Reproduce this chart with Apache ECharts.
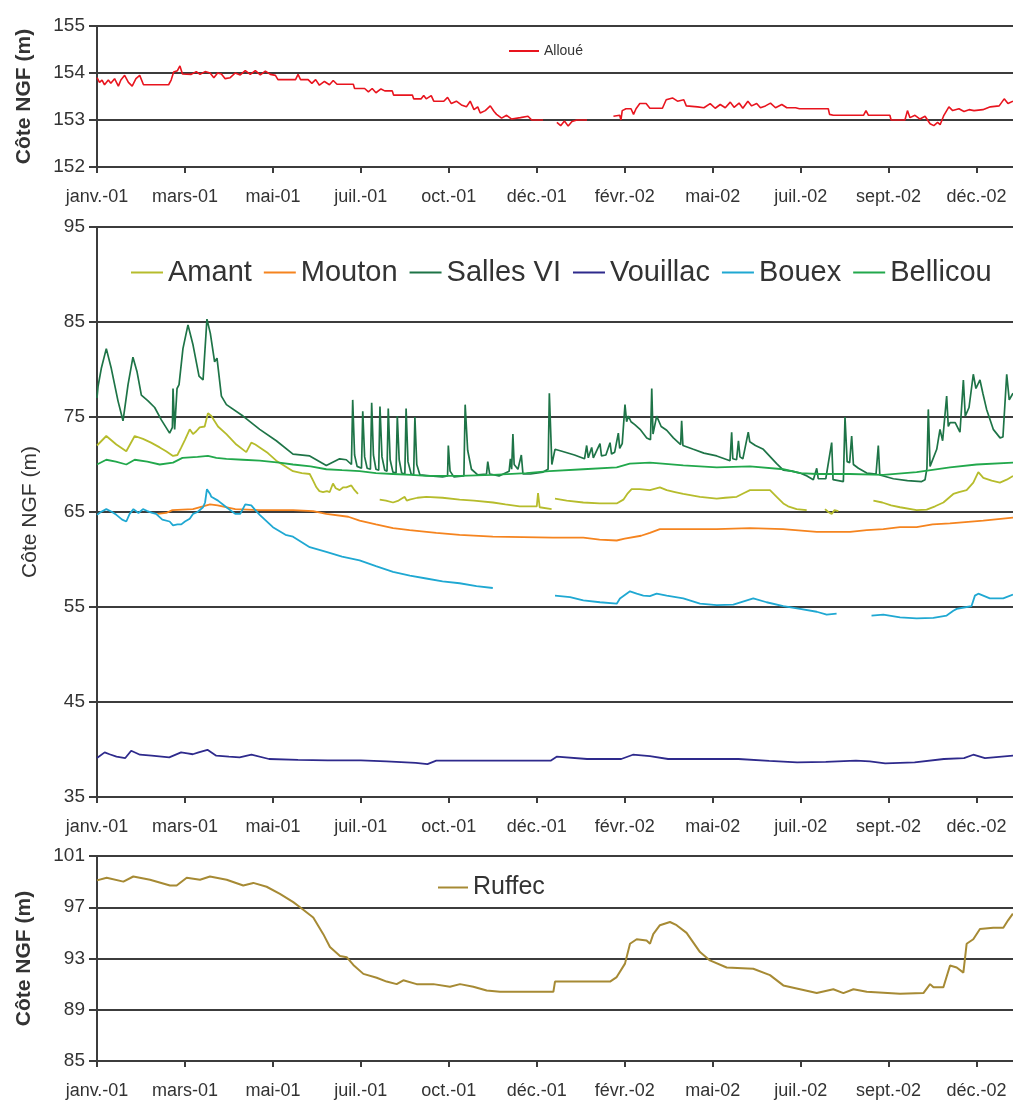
<!DOCTYPE html>
<html>
<head>
<meta charset="utf-8">
<script src="https://cdn.jsdelivr.net/npm/echarts@6/dist/echarts.min.js"></script>
<style>html,body{margin:0;padding:0;background:#fff;}#c{width:1013px;height:1100px;}</style>
</head>
<body>
<div id="c"></div>
<script>
// x = day index from 1 Jan 2001; ticks every 70 days
const xTickLabels = ['janv.-01','mars-01','mai-01','juil.-01','oct.-01','déc.-01','févr.-02','mai-02','juil.-02','sept.-02','déc.-02'];
const topTicks = [152, 153, 154, 155];
const midTicks = [35, 45, 55, 65, 75, 85, 95];
const botTicks = [85, 89, 93, 97, 101];

const alloue = [[0,153.9],[2,153.8],[4,153.85],[6,153.75],[9,153.85],[11,153.78],[14,153.88],[17,153.72],[19,153.85],[22,153.95],[25,153.8],[28,153.72],[31,153.88],[34,153.95],[37,153.75],[44,153.75],[50,153.75],[57,153.75],[59,153.85],[61,154.02],[64,154.05],[66,154.15],[68,153.98],[75,153.97],[79,154.03],[82,153.97],[86,154.03],[90,154.0],[93,153.9],[96,154.0],[99,153.98],[102,153.88],[106,153.9],[110,154.0],[114,153.96],[118,154.05],[122,153.97],[126,154.05],[130,153.96],[134,154.04],[138,153.97],[142,153.95],[144,153.86],[152,153.86],[158,153.86],[160,153.97],[162,153.86],[168,153.86],[171,153.78],[174,153.86],[177,153.74],[181,153.82],[185,153.75],[188,153.84],[191,153.76],[204,153.76],[205,153.67],[213,153.67],[216,153.6],[219,153.67],[222,153.58],[226,153.66],[229,153.62],[235,153.62],[236,153.53],[251,153.53],[252,153.45],[258,153.45],[260,153.52],[262,153.45],[266,153.52],[268,153.4],[276,153.4],[279,153.48],[282,153.35],[286,153.4],[290,153.32],[294,153.28],[297,153.4],[300,153.22],[303,153.28],[305,153.15],[309,153.2],[313,153.3],[316,153.18],[318,153.12],[322,153.04],[326,153.1],[330,153.02],[337,153.05],[343,153.08],[346,153.0],[355,153.0],[355.5,null],[366,152.95],[369,152.88],[372,152.98],[375,152.87],[378,152.97],[382,153.0],[390,153.0],[390.5,null],[411,153.08],[416,153.1],[417,153.0],[418,153.2],[421,153.24],[425,153.24],[427,153.12],[429,153.24],[432,153.35],[437,153.35],[440,153.25],[450,153.25],[453,153.43],[458,153.47],[462,153.4],[467,153.43],[469,153.3],[478,153.28],[483,153.26],[488,153.35],[492,153.25],[496,153.33],[500,153.26],[504,153.38],[507,153.27],[511,153.36],[514,153.25],[518,153.4],[521,153.3],[525,153.35],[528,153.26],[532,153.3],[536,153.36],[540,153.26],[545,153.33],[549,153.26],[556,153.26],[559,153.24],[582,153.24],[583,153.12],[586,153.1],[610,153.1],[612,153.2],[614,153.1],[631,153.1],[632,153.0],[643,153.0],[645,153.2],[647,153.05],[651,153.1],[655,153.02],[659,153.08],[663,152.92],[666,152.88],[669,152.95],[671,152.9],[674,153.1],[678,153.28],[681,153.2],[686,153.24],[690,153.18],[694,153.22],[698,153.2],[705,153.22],[711,153.28],[718,153.3],[722,153.45],[725,153.35],[729,153.4]];

const amant = [[0,72.0],[7.4,73.0],[15.4,72.1],[23.3,71.4],[30,73.0],[36.6,72.7],[43,72.3],[49.9,71.8],[55,71.4],[60.5,70.9],[64,71.0],[67.1,71.8],[70,72.6],[73.8,73.7],[76.4,73.2],[79,73.5],[81.7,73.9],[85.7,74.0],[88.3,75.4],[91,75.1],[96.3,74.0],[103,73.2],[110.9,72.1],[118.8,71.3],[122.8,72.3],[126,72.1],[129.5,71.8],[136,71.2],[142.7,70.4],[150,69.8],[156,69.3],[163,69.1],[169.3,69.0],[172,68.3],[174.6,67.6],[177,67.2],[179.9,67.1],[183,67.2],[185.2,67.1],[187.8,68.0],[190,67.5],[193.1,67.3],[196,67.6],[198.4,67.6],[202.4,67.8],[205,67.3],[207.7,66.9],[208,null],[225,66.3],[230,66.2],[235.6,66.0],[240,66.2],[244.9,66.6],[246.5,66.2],[248.8,66.3],[255,66.5],[262.1,66.6],[275,66.5],[288.6,66.3],[300,66.2],[315.2,66.0],[325,65.8],[336.4,65.6],[343,65.6],[350,65.6],[351,67.0],[352.3,65.5],[361.8,65.3],[363,null],[364.5,66.4],[373.8,66.2],[387,66.0],[400,65.9],[413.6,65.9],[418.9,66.3],[422,66.9],[425.5,67.4],[432,67.4],[440,67.3],[448,67.6],[453.4,67.3],[460,67.1],[466.6,66.9],[479.9,66.6],[493.2,66.4],[500,66.5],[509.1,66.6],[515,67.0],[519.7,67.3],[528,67.3],[535.6,67.3],[540.9,66.6],[546.2,65.9],[550,65.6],[556.8,65.3],[564.8,65.2],[566,null],[579.4,65.3],[582,65.0],[584.7,64.8],[587,65.2],[590,65.1],[591,null],[617.9,66.2],[625,66.0],[632,65.7],[639.1,65.5],[652.3,65.2],[660.3,65.25],[667,65.6],[673.6,66.0],[681.5,66.9],[686,67.1],[692.1,67.3],[697.4,68.1],[701.4,69.2],[705.4,68.6],[712,68.3],[718.6,68.1],[724,68.4],[729,68.8]];

const mouton = [[48,64.8],[55,64.9],[60,65.2],[76.4,65.3],[90,65.8],[96,65.7],[110,65.3],[129.5,65.2],[156,65.2],[172,65.1],[182.5,64.8],[200,64.5],[209,64.1],[222,63.7],[235.6,63.3],[248.8,63.1],[270,62.8],[288.6,62.6],[315,62.4],[363,62.3],[387,62.3],[400,62.1],[413.6,62.0],[420,62.2],[433,62.5],[440,62.8],[448,63.2],[466.6,63.2],[493.2,63.2],[519.7,63.3],[546,63.2],[572.8,62.9],[599.3,62.9],[612.6,63.1],[625.8,63.2],[639,63.4],[652.3,63.4],[665,63.7],[678.8,63.8],[705.3,64.1],[729,64.4]];

const salles = [[0,77.0],[0.8,78.2],[3.4,80.1],[7.4,82.2],[11.4,80.1],[16.7,76.7],[20.7,74.6],[24.7,78.4],[28.6,81.3],[31.8,79.8],[35.3,77.3],[40.6,76.7],[45.9,76.0],[51.2,74.7],[57.8,73.3],[60,73.9],[60.5,78.0],[61.8,73.7],[63.7,78.0],[65.3,78.4],[68.4,82.2],[72.4,84.7],[76.4,82.6],[81.2,79.3],[84.4,78.9],[87.5,85.3],[90.2,83.8],[93.6,80.8],[95.5,81.2],[99,77.2],[103,76.3],[116.2,75.1],[129.5,73.7],[142.7,72.5],[156,71.1],[169.3,70.9],[182.5,69.9],[193.1,70.6],[198.4,70.5],[202.5,70.0],[203.5,76.8],[205,71.0],[207,69.8],[210.5,69.6],[211.5,75.6],[213,70.8],[215,69.6],[217.6,69.5],[218.6,76.5],[220,71.0],[222,69.5],[224.2,69.4],[225.2,76.1],[226.8,70.8],[229,69.4],[230.8,69.3],[231.8,75.9],[233.3,70.5],[235.5,69.2],[238,69.1],[239,75.1],[240.5,70.5],[242.5,69.1],[245,69.0],[246,75.9],[247.5,70.3],[250,69.0],[252,68.9],[253,75.0],[254.5,70.0],[257,68.9],[265,68.8],[275,68.7],[279,68.8],[279.6,72.0],[281,69.3],[284,68.7],[292,68.8],[293,76.3],[295,71.5],[298,69.5],[303,68.9],[310,69.0],[311,70.3],[312.5,69.0],[320,68.8],[328,69.3],[329,70.6],[330,69.5],[331,73.2],[332,70.0],[335,69.5],[337.7,71.0],[339,69.0],[345,69.0],[355,69.2],[359,69.5],[360,77.5],[362,70.0],[364.5,71.6],[370,71.4],[380,71.0],[388,70.6],[389.7,72.0],[391,70.7],[393.7,71.8],[395,70.7],[400.3,72.2],[401.5,70.9],[405,71.0],[408.3,72.3],[409.5,71.1],[412,71.3],[414.9,73.3],[416,71.7],[418,72.2],[420.2,76.3],[421.5,74.5],[422.9,75.1],[425,74.5],[428,74.2],[432.2,73.7],[437.5,72.8],[440.5,72.6],[441.5,78.0],[442.5,73.2],[445.4,75.1],[449,74.0],[453.4,73.6],[458.7,72.8],[464.5,72.1],[465.3,74.6],[466.3,72.0],[474.6,71.6],[483,71.2],[493.2,70.9],[503.8,70.4],[505.1,73.4],[506,70.6],[509,70.5],[510.5,72.5],[511.7,70.8],[514,70.6],[518.3,73.4],[519.5,72.4],[524,72.0],[530.3,71.6],[540.9,70.1],[546.2,69.4],[553,69.3],[559.5,69.1],[565,68.8],[570.1,68.4],[572.8,69.6],[574,68.5],[580,68.5],[584.7,72.3],[585.8,68.4],[590,68.3],[594,68.2],[595.3,75.0],[597,70.3],[599,70.2],[600.6,73.0],[602,70.0],[606,69.6],[612.6,69.1],[620,69.0],[621.8,72.0],[623,68.9],[633.8,68.5],[645,68.3],[656.3,68.2],[659,68.4],[660.5,69.6],[661.6,75.8],[663,69.8],[668.3,71.6],[670.9,73.7],[673,72.5],[676.2,77.2],[677.5,74.0],[678.9,74.4],[683,74.4],[686.8,73.4],[689.5,78.9],[691,75.1],[694,76.0],[697.4,79.5],[699.5,78.0],[702.7,78.9],[705,77.5],[708,75.8],[713.3,73.7],[718.7,72.8],[721,72.9],[724,79.5],[726,76.8],[729,77.5]];

const vouillac = [[0,39.1],[1.5,39.24],[6.1,39.7],[10,39.5],[15.5,39.24],[22.5,39.1],[27.2,39.87],[34.2,39.45],[43.5,39.35],[57.5,39.17],[66.9,39.7],[72,39.6],[76.2,39.5],[80.9,39.7],[87.9,39.97],[94.9,39.35],[105,39.25],[113.5,39.17],[122.9,39.45],[136.9,39.0],[160,38.9],[183.6,38.85],[210,38.85],[230.3,38.75],[253.7,38.6],[263,38.47],[270,38.82],[300,38.82],[323.8,38.82],[361,38.82],[365.8,39.24],[390,39.0],[417.2,39.0],[426.5,39.45],[440,39.3],[454.5,39.0],[480,39.0],[510.5,39.0],[535,38.8],[557.2,38.65],[580,38.7],[604,38.82],[615,38.75],[627.3,38.54],[650.7,38.65],[674,39.0],[690,39.1],[697.4,39.45],[706.7,39.1],[729,39.35]];

const bouex = [[0,64.7],[3,65.0],[7.4,65.3],[12,65.0],[15.4,64.7],[20,64.2],[23.3,64.0],[26,64.8],[29,65.3],[33,64.9],[36.6,65.3],[40,65.1],[44,64.9],[47,64.8],[52,64.2],[57.8,64.0],[60.5,63.6],[64,63.7],[67.1,63.7],[70,64.0],[73.8,64.3],[76.4,64.8],[80,65.0],[84.4,65.5],[86,66.0],[87.5,67.4],[90,66.9],[91,66.6],[96.3,66.2],[103,65.5],[110,64.8],[114,64.8],[118,65.8],[119,66.0],[122.8,65.7],[126,65.2],[129.5,64.7],[140,63.4],[150,62.6],[156,62.4],[169.3,61.3],[182.5,60.8],[195,60.3],[209,59.9],[222,59.3],[235.6,58.7],[249,58.3],[262,58.0],[275,57.7],[288.6,57.5],[302,57.2],[315,57.0],[316,null],[364.5,56.2],[376.5,56.05],[387,55.7],[400.3,55.5],[413.6,55.35],[416.2,55.9],[424.2,56.65],[429.5,56.4],[434.8,56.2],[440,56.15],[445.4,56.4],[453.4,56.2],[466.6,55.9],[479.9,55.35],[493.2,55.2],[506.4,55.25],[522.3,55.9],[532.9,55.5],[546.2,55.1],[559.5,54.8],[572.8,54.5],[580.7,54.2],[588.6,54.3],[589,null],[616.4,54.1],[625.8,54.2],[639.1,53.9],[652.3,53.8],[665.6,53.85],[676.2,54.1],[681.5,54.6],[684.2,54.8],[692.1,55.0],[696,55.1],[698.7,56.2],[701.4,56.4],[710.6,55.9],[721.2,55.9],[729,56.3]];

const bellicou = [[0,70.0],[7.4,70.5],[15,70.3],[23.3,70.0],[30,70.5],[40,70.3],[49.9,70.0],[60.5,70.2],[68,70.7],[80,70.8],[88.3,70.9],[95,70.7],[103,70.6],[116,70.5],[129.5,70.4],[145,70.2],[156,70.0],[170,69.8],[182.5,69.5],[195,69.4],[209,69.3],[222,69.1],[235.6,69.0],[250,68.9],[262,68.8],[288.6,68.8],[315,68.9],[341.7,69.1],[360,69.3],[387,69.5],[413.6,69.7],[424,70.1],[440,70.2],[450,70.1],[466.6,69.9],[493.2,69.7],[519.7,69.8],[546.2,69.5],[560,69.1],[572.8,69.0],[599.3,69.0],[625.8,68.9],[652.3,69.2],[678.8,69.7],[700,70.0],[729,70.2]];

const ruffec = [[0,99.1],[7.7,99.3],[21,99.0],[28.9,99.4],[42.2,99.15],[58.1,98.7],[63.4,98.7],[71.4,99.3],[82,99.15],[89.9,99.4],[103.2,99.15],[116.4,98.7],[124.4,98.9],[135,98.6],[145.6,98.05],[156.2,97.4],[161.6,97.0],[172.1,96.2],[180.1,94.9],[185.4,93.9],[193.4,93.2],[198.7,93.1],[204,92.5],[212,91.8],[222.6,91.5],[230.5,91.2],[238.5,91.0],[243.8,91.3],[254.4,91.0],[267.7,91.0],[280.9,90.8],[288.9,91.0],[299.5,90.8],[310.1,90.5],[320.7,90.4],[363.2,90.4],[364.5,91.2],[408.3,91.2],[413.6,91.55],[420.2,92.6],[424.2,94.15],[429.5,94.5],[437.4,94.4],[440.1,94.15],[442.7,94.9],[448,95.6],[456,95.85],[461.3,95.6],[469.2,95.0],[479.9,93.5],[487.8,92.85],[501.1,92.3],[522.3,92.2],[535.6,91.7],[546.2,90.9],[559.5,90.6],[572.8,90.3],[586,90.6],[594,90.3],[602,90.6],[612.6,90.4],[639.1,90.25],[657.7,90.3],[663,91.0],[665.7,90.75],[673.6,90.75],[678.9,92.45],[684.2,92.3],[689.5,91.9],[692.1,94.15],[697.4,94.5],[702.7,95.3],[713.3,95.4],[721.3,95.4],[725.2,96.0],[728.9,96.5]];

const FONT = 'Liberation Sans';
const gridColor = '#3c3c3c';
const DAY_STEP = 70;

function xAxisFor(i) {
  return {
    type: 'value', gridIndex: i, min: 0, max: 729, interval: DAY_STEP,
    axisLine: { show: true, lineStyle: { color: gridColor, width: 2 } },
    axisTick: { show: true, length: 6, lineStyle: { color: gridColor, width: 2 } },
    splitLine: { show: false },
    axisLabel: {
      fontFamily: FONT, fontSize: 18, color: '#333', margin: 21, showMaxLabel: false,
      formatter: v => (v % DAY_STEP === 0 ? (xTickLabels[v / DAY_STEP] || '') : '')
    }
  };
}
function yAxisFor(i, ticks, gap, bold) {
  return {
    type: 'value', gridIndex: i, min: ticks[0], max: ticks[ticks.length - 1],
    interval: ticks[1] - ticks[0],
    name: 'Côte NGF (m)', nameLocation: 'middle', nameRotate: 90, nameGap: gap,
    nameTextStyle: { fontFamily: FONT, fontSize: 21, color: '#333', fontWeight: bold ? 'bold' : 'normal' },
    axisLine: { show: true, lineStyle: { color: gridColor, width: 2 } },
    axisTick: { show: true, length: 8, lineStyle: { color: gridColor, width: 2 } },
    splitLine: { show: true, lineStyle: { color: gridColor, width: 2 } },
    axisLabel: { fontFamily: FONT, fontSize: 19, color: '#333', margin: 12 }
  };
}
function line(name, data, color, gi, w) {
  return {
    name, type: 'line', data, xAxisIndex: gi, yAxisIndex: gi,
    showSymbol: false, symbol: 'none', connectNulls: false,
    lineStyle: { color, width: w || 1.8 }, itemStyle: { color },
    animation: false
  };
}

const chart = echarts.init(document.getElementById('c'), null, { renderer: 'canvas' });
chart.setOption({
  backgroundColor: '#fff',
  animation: false,
  grid: [
    { left: 97, width: 916, top: 26, height: 141 },
    { left: 97, width: 916, top: 227, height: 570 },
    { left: 97, width: 916, top: 856, height: 205 }
  ],
  xAxis: [xAxisFor(0), xAxisFor(1), xAxisFor(2)],
  yAxis: [yAxisFor(0, topTicks, 62, true), yAxisFor(1, midTicks, 56, false), yAxisFor(2, botTicks, 62, true)],
  legend: [
    { data: ['Alloué'], left: 504, top: 39, icon: 'rect', itemWidth: 30, itemHeight: 2, itemGap: 4,
      textStyle: { fontFamily: FONT, fontSize: 14, color: '#333' } },
    { data: ['Amant', 'Mouton', 'Salles VI', 'Vouillac', 'Bouex', 'Bellicou'], left: 126, top: 253,
      icon: 'rect', itemWidth: 32, itemHeight: 2, itemGap: 12,
      textStyle: { fontFamily: FONT, fontSize: 29, color: '#333' } },
    { data: ['Ruffec'], left: 433, top: 870, icon: 'rect', itemWidth: 30, itemHeight: 2,
      textStyle: { fontFamily: FONT, fontSize: 25, color: '#333' } }
  ],
  series: [
    line('Alloué', alloue, '#e8141e', 0, 1.6),
    line('Amant', amant, '#b6bc2c', 1),
    line('Mouton', mouton, '#f5841f', 1),
    line('Salles VI', salles, '#1e7447', 1, 1.7),
    line('Vouillac', vouillac, '#2e2a8c', 1),
    line('Bouex', bouex, '#1fa8d2', 1),
    line('Bellicou', bellicou, '#22a84c', 1),
    line('Ruffec', ruffec, '#a68a34', 2, 2)
  ]
});
</script>
</body>
</html>
